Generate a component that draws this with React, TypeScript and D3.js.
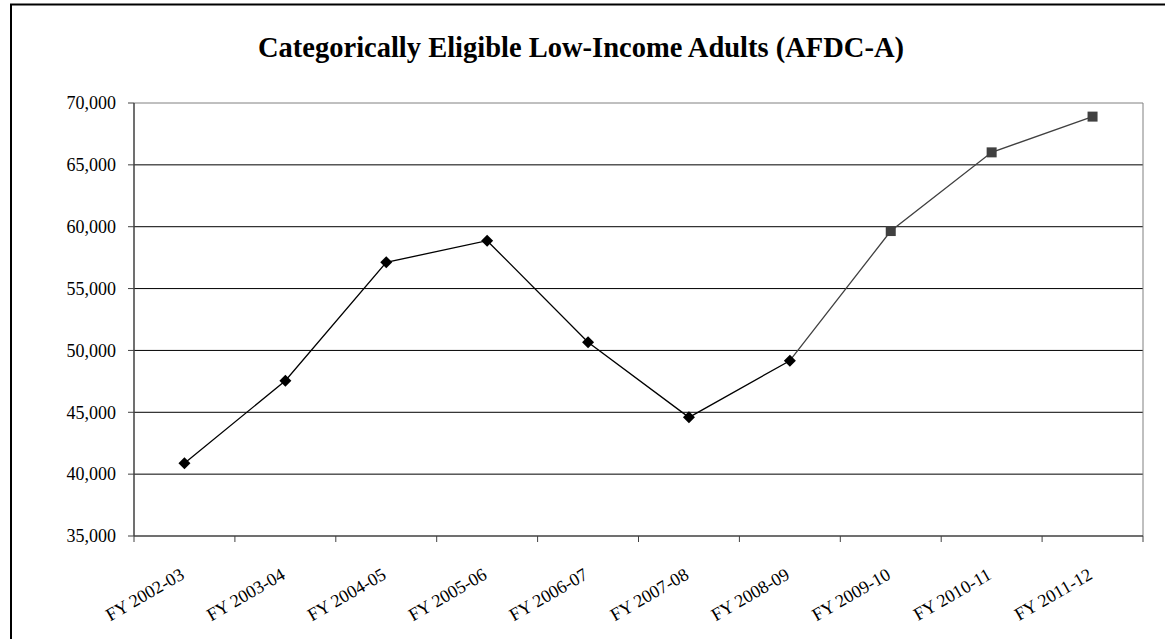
import React from "react";
import * as d3 from "d3";

const categories = [
  "FY 2002-03", "FY 2003-04", "FY 2004-05", "FY 2005-06", "FY 2006-07",
  "FY 2007-08", "FY 2008-09", "FY 2009-10", "FY 2010-11", "FY 2011-12",
];
// Actual caseload (FY 2002-03 through FY 2008-09)
const actualValues = [40880, 47550, 57120, 58870, 50660, 44590, 49170];
// Projected caseload (continues from FY 2008-09)
const projectedStart = 6;
const projectedValues = [49170, 59650, 66010, 68900];
const yTicks = [35000, 40000, 45000, 50000, 55000, 60000, 65000, 70000];
const title = "Categorically Eligible Low-Income Adults (AFDC-A)";

const W = 1165;
const H = 639;
const plot = { left: 134, right: 1143, top: 103, bottom: 536 };
const font = "'Liberation Serif', 'Times New Roman', serif";

export default function App() {
  const x = d3.scaleBand<string>().domain(categories).range([plot.left, plot.right]).padding(0);
  const y = d3.scaleLinear().domain([35000, 70000]).range([plot.bottom, plot.top]);
  const cx = (i: number) => (x(categories[i]) as number) + x.bandwidth() / 2;

  const line = d3.line<[number, number]>().x((d) => d[0]).y((d) => d[1]);
  const actualPts: [number, number][] = actualValues.map((v, i) => [cx(i), y(v)]);
  const projPts: [number, number][] = projectedValues.map((v, i) => [cx(projectedStart + i), y(v)]);

  const boundaries = categories.map((c) => x(c) as number).concat([plot.right]);

  return (
    <svg width={W} height={H} style={{ position: "absolute", left: 0, top: 0 }}>
      <rect x={0} y={0} width={W} height={H} fill="#fff" />
      {/* chart frame */}
      <rect x={11} y={4.5} width={W + 20} height={H + 20} fill="none" stroke="#000" strokeWidth={2} />
      <text x={581} y={57} textAnchor="middle" fontFamily={font} fontWeight="bold" fontSize={28.5}>
        {title}
      </text>

      {/* horizontal gridlines */}
      {yTicks.slice(1).map((t) => (
        <line key={t} x1={plot.left} x2={plot.right} y1={y(t)} y2={y(t)}
          stroke={t === 70000 ? "#808080" : "#000"} strokeWidth={1} />
      ))}
      {/* plot area right edge */}
      <line x1={plot.right} x2={plot.right} y1={plot.top} y2={plot.bottom} stroke="#808080" strokeWidth={1} />

      {/* y axis */}
      <line x1={plot.left} x2={plot.left} y1={plot.top} y2={plot.bottom} stroke="#404040" strokeWidth={1.5} />
      {yTicks.map((t) => (
        <g key={t}>
          <line x1={plot.left - 6} x2={plot.left} y1={y(t)} y2={y(t)} stroke="#404040" strokeWidth={1} />
          <text x={plot.left - 18} y={y(t)} dy="0.35em" textAnchor="end" fontFamily={font} fontSize={18}>
            {d3.format(",")(t)}
          </text>
        </g>
      ))}

      {/* x axis */}
      <line x1={plot.left} x2={plot.right} y1={plot.bottom} y2={plot.bottom} stroke="#404040" strokeWidth={1.5} />
      {boundaries.map((b, i) => (
        <line key={i} x1={b} x2={b} y1={plot.bottom} y2={plot.bottom + 6} stroke="#404040" strokeWidth={1} />
      ))}
      {categories.map((c, i) => (
        <text key={c} transform={`translate(${cx(i) + 1},${plot.bottom + 42}) rotate(-30)`}
          textAnchor="end" fontFamily={font} fontSize={18}>
          {c}
        </text>
      ))}

      {/* projected series */}
      <path d={line(projPts) as string} fill="none" stroke="#404040" strokeWidth={1.3} />
      {projPts.slice(1).map((p, i) => (
        <rect key={i} x={p[0] - 5} y={p[1] - 5} width={10} height={10} fill="#404040" />
      ))}

      {/* actual series */}
      <path d={line(actualPts) as string} fill="none" stroke="#000" strokeWidth={1.3} />
      {actualPts.map((p, i) => (
        <path key={i} d={`M${p[0]},${p[1] - 6}L${p[0] + 6},${p[1]}L${p[0]},${p[1] + 6}L${p[0] - 6},${p[1]}Z`} fill="#000" />
      ))}
    </svg>
  );
}
